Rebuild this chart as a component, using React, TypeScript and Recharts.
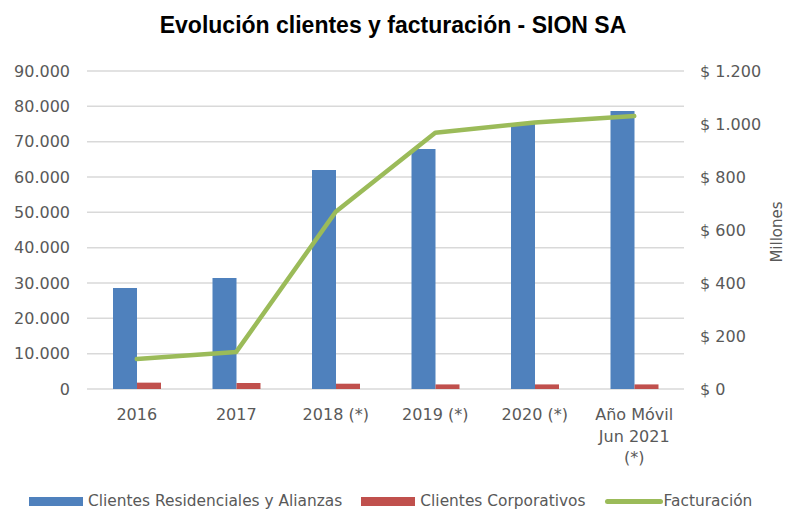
import React from "react";
import {
  ComposedChart,
  Bar,
  Line,
  XAxis,
  YAxis,
  CartesianGrid,
  Legend,
} from "recharts";

const categories = [
  "2016",
  "2017",
  "2018 (*)",
  "2019 (*)",
  "2020 (*)",
  "Año Móvil\nJun 2021\n(*)",
];
const residenciales = [28600, 31400, 62000, 67900, 75200, 78700];
const corporativos = [1800, 1700, 1500, 1300, 1300, 1300];
const facturacion = [113, 140, 669, 967, 1006, 1030];

const seriesNames = ["Clientes Residenciales y Alianzas", "Clientes Corporativos", "Facturación"];

const leftTicks = [0, 10000, 20000, 30000, 40000, 50000, 60000, 70000, 80000, 90000];
const rightTicks = [0, 200, 400, 600, 800, 1000, 1200];

const data = categories.map((cat, i) => ({
  cat,
  res: residenciales[i],
  corp: corporativos[i],
  fact: facturacion[i],
}));

const FONT = "'DejaVu Sans', sans-serif";
const TEXT = "#595959";

const thousands = (v: number) =>
  String(v).replace(/\B(?=(\d{3})+(?!\d))/g, ".");

const CatTick = ({ x, y, payload }: any) => {
  const lines = String(payload.value).split("\n");
  return (
    <text x={x} y={y} textAnchor="middle" fill={TEXT} fontSize={16} fontFamily={FONT}>
      {lines.map((l, i) => (
        <tspan key={i} x={x} dy={i === 0 ? 29 : 21.5}>
          {l}
        </tspan>
      ))}
    </text>
  );
};

const LegendContent = ({ payload }: any) => {
  // keep the legend in the original series order
  const items = [...(payload || [])].sort(
    (a: any, b: any) => seriesNames.indexOf(a.value) - seriesNames.indexOf(b.value)
  );
  return (
    <div
      style={{
        height: 30,
        boxSizing: "border-box",
        paddingTop: 12,
        paddingLeft: 29,
        display: "flex",
        alignItems: "center",
        fontFamily: FONT,
        fontSize: 15.4,
        color: TEXT,
      }}
    >
      {items.map((entry: any, i: number) => (
        <div key={i} style={{ display: "flex", alignItems: "center", marginRight: 19 }}>
          {entry.type === "line" ? (
            <span
              style={{
                width: 58,
                height: 5,
                borderRadius: 3,
                background: entry.color,
                marginRight: 1,
              }}
            />
          ) : (
            <span style={{ width: 54, height: 9, background: entry.color, marginRight: 5 }} />
          )}
          <span>{entry.value}</span>
        </div>
      ))}
    </div>
  );
};

export default function App() {
  return (
    <div style={{ position: "absolute", left: 0, top: 0, width: 786, height: 510, background: "#fff" }}>
      <div
        style={{
          position: "absolute",
          top: 12,
          left: 0,
          width: 786,
          textAlign: "center",
          fontFamily: "'Liberation Sans', Arial, sans-serif",
          fontWeight: "bold",
          fontSize: 23,
          color: "#000",
        }}
      >
        Evolución clientes y facturación - SION SA
      </div>
      <ComposedChart
        width={786}
        height={510}
        data={data}
        margin={{ top: 71, right: 0, bottom: 0, left: 0 }}
        barGap={0}
      >
        <CartesianGrid yAxisId="left" vertical={false} stroke="#d9d9d9" strokeWidth={1.5} />
        <XAxis
          dataKey="cat"
          axisLine={false}
          tickLine={false}
          tickSize={0}
          height={91}
          interval={0}
          tick={<CatTick />}
        />
        <YAxis
          yAxisId="left"
          width={87}
          domain={[0, 90000]}
          ticks={leftTicks}
          axisLine={false}
          tickLine={false}
          tickSize={0}
          tickMargin={17}
          tickFormatter={thousands}
          tick={{ fill: TEXT, fontSize: 16, fontFamily: FONT }}
        />
        <YAxis
          yAxisId="right"
          orientation="right"
          width={102}
          domain={[0, 1200]}
          ticks={rightTicks}
          axisLine={false}
          tickLine={false}
          tickSize={0}
          tickMargin={16}
          tickFormatter={(v: number) => "$ " + thousands(v)}
          tick={{ fill: TEXT, fontSize: 16, fontFamily: FONT, textAnchor: "start" }}
          label={{
            content: ({ viewBox }: any) => {
              const cx = viewBox.x + viewBox.width - 9;
              const cy = viewBox.y + viewBox.height / 2 + 2;
              return (
                <text
                  x={cx}
                  y={cy}
                  transform={`rotate(-90 ${cx} ${cy})`}
                  textAnchor="middle"
                  dominantBaseline="central"
                  fill={TEXT}
                  fontSize={15}
                  fontFamily={FONT}
                >
                  Millones
                </text>
              );
            },
          }}
        />
        <Legend verticalAlign="bottom" content={<LegendContent />} />
        <Bar
          yAxisId="left"
          dataKey="res"
          name={seriesNames[0]}
          fill="#4F81BD"
          barSize={24}
          legendType="rect"
          isAnimationActive={false}
        />
        <Bar
          yAxisId="left"
          dataKey="corp"
          name={seriesNames[1]}
          fill="#C0504D"
          barSize={24}
          legendType="rect"
          isAnimationActive={false}
        />
        <Line
          yAxisId="right"
          dataKey="fact"
          name={seriesNames[2]}
          stroke="#9BBB59"
          strokeWidth={4.5}
          strokeLinecap="round"
          strokeLinejoin="round"
          dot={false}
          legendType="line"
          isAnimationActive={false}
        />
      </ComposedChart>
    </div>
  );
}
